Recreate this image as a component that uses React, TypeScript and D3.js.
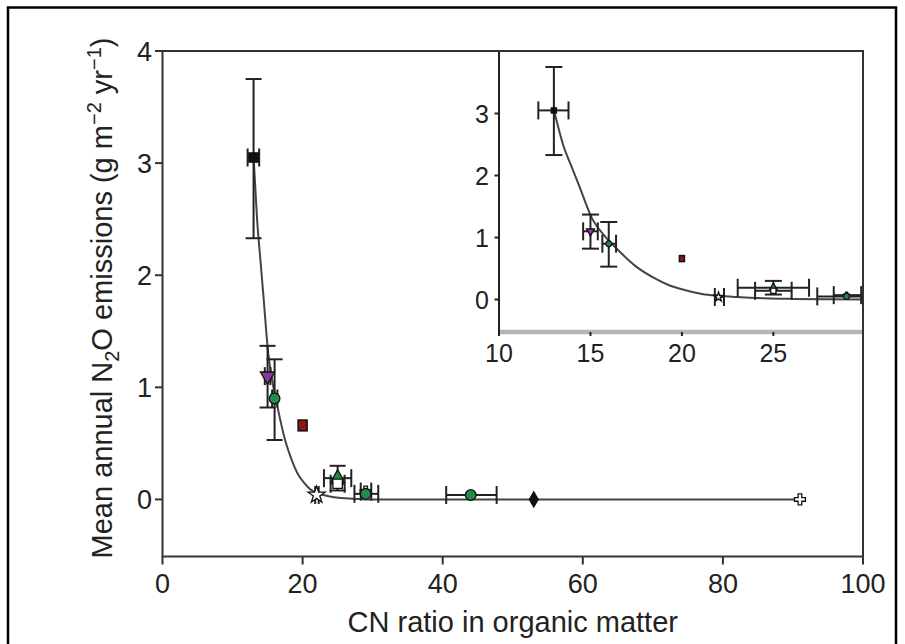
import React from "react";
import * as d3 from "d3";

// ---- data ----
const cnRatio = [13, 15, 16, 20, 22, 25, 25, 29, 29, 44, 53, 91];
const n2oMean = [3.05, 1.1, 0.9, 0.66, 0.04, 0.19, 0.14, 0.07, 0.05, 0.04, 0.0, 0.0];
const yErrLow = [2.33, 0.82, 0.53, null, null, 0.08, null, null, null, null, null, null];
const yErrHigh = [3.75, 1.37, 1.25, null, null, 0.3, null, null, null, null, null, null];
const xErrLow = [12.15, 14.6, 15.65, null, 21.8, 23.05, 24.0, 28.3, 27.4, 40.5, null, null];
const xErrHigh = [13.8, 15.4, 16.4, null, 22.3, 26.95, 26.0, 29.8, 30.8, 47.7, null, null];
const markerKind = ["square", "triangleDown", "circle", "rect", "star", "triangleUp", "square", "cross", "circle", "circle", "diamond", "cross"];
const markerColor = ["#111", "#8a3a9e", "#1e8f46", "#8c1515", "#fff", "#1e8f46", "#fff", "#fff", "#1e8f46", "#1e8f46", "#111", "#fff"];

// fitted curve, points
const curveCN = [13.05, 13.5, 14.0, 14.4, 15.1, 15.7, 16.4, 17.5, 18.4, 19.3, 20.2, 21.1, 22, 23, 24.5, 26, 28, 30, 40, 60, 91];
const curveN2O = [3.0, 2.5, 2.12, 1.82, 1.3, 1.05, 0.83, 0.53, 0.36, 0.23, 0.15, 0.09, 0.06, 0.04, 0.02, 0.01, 0.004, 0, 0, 0, 0];

const mainXTicks = [0, 20, 40, 60, 80, 100];
const mainYTicks = [0, 1, 2, 3, 4];
const insetXTicks = [10, 15, 20, 25];
const insetYTicks = [0, 1, 2, 3];

const FONT = "'Liberation Sans', Arial, Helvetica, sans-serif";
const INK = "#222";

function symbolPath(kind: string, size: number) {
  const map: Record<string, any> = {
    square: d3.symbolSquare,
    circle: d3.symbolCircle,
    star: d3.symbolStar,
    diamond: d3.symbolDiamond,
    cross: d3.symbolCross,
    triangleUp: d3.symbolTriangle,
    triangleDown: d3.symbolTriangle,
  };
  return d3.symbol().type(map[kind] || d3.symbolCircle).size(size)()!;
}

function Marker({ kind, cx, cy, fill, s }: any) {
  if (kind === "rect") {
    return <rect x={cx - 5 * s} y={cy - 6 * s} width={10 * s} height={12 * s} fill={fill} stroke="#111" strokeWidth={1.5} />;
  }
  const rot = kind === "triangleDown" ? 180 : 0;
  const k = kind === "diamond" || kind === "cross" ? 0.75 : 1;
  return (
    <path d={symbolPath(kind, 110 * s * s * k)} transform={`translate(${cx},${cy}) rotate(${rot})`} fill={fill} stroke="#111" strokeWidth={1.3} />
  );
}

function Points({ xs, ys, capW, capH, ms }: any) {
  return (
    <g>
      {cnRatio.map((cn, i) => {
        const cx = xs(cn);
        const cy = ys(n2oMean[i]);
        const els: any[] = [];
        const yl = yErrLow[i], yh = yErrHigh[i];
        if (yl != null && yh != null) {
          els.push(<line key="yv" x1={cx} x2={cx} y1={ys(yl)} y2={ys(yh)} stroke={INK} strokeWidth={2} />);
          els.push(<line key="yc1" x1={cx - capW / 2} x2={cx + capW / 2} y1={ys(yl)} y2={ys(yl)} stroke={INK} strokeWidth={2} />);
          els.push(<line key="yc2" x1={cx - capW / 2} x2={cx + capW / 2} y1={ys(yh)} y2={ys(yh)} stroke={INK} strokeWidth={2} />);
        }
        const xl = xErrLow[i], xh = xErrHigh[i];
        if (xl != null && xh != null) {
          els.push(<line key="xh" x1={xs(xl)} x2={xs(xh)} y1={cy} y2={cy} stroke={INK} strokeWidth={2} />);
          els.push(<line key="xc1" x1={xs(xl)} x2={xs(xl)} y1={cy - capH / 2} y2={cy + capH / 2} stroke={INK} strokeWidth={2} />);
          els.push(<line key="xc2" x1={xs(xh)} x2={xs(xh)} y1={cy - capH / 2} y2={cy + capH / 2} stroke={INK} strokeWidth={2} />);
        }
        return (
          <g key={i}>
            {els}
            <Marker kind={markerKind[i]} cx={cx} cy={cy} fill={markerColor[i]} s={ms} />
          </g>
        );
      })}
    </g>
  );
}

export default function App() {
  // main plot
  const x = d3.scaleLinear().domain([0, 100]).range([162.5, 863]);
  const y = d3.scaleLinear().domain([-0.5, 4]).range([555.5, 51]);
  // inset
  const xi = d3.scaleLinear().domain([10, 29.9]).range([499, 863]);
  const yi = d3.scaleLinear().domain([-0.5, 4]).range([330.5, 51.5]);

  const curveData = curveCN.map((c, i) => [c, curveN2O[i]] as [number, number]);
  const lineMain = d3.line<[number, number]>().x((d) => x(d[0])).y((d) => y(d[1])).curve(d3.curveMonotoneX);
  const lineInset = d3.line<[number, number]>().x((d) => xi(d[0])).y((d) => yi(d[1])).curve(d3.curveMonotoneX);

  const [x0, x1] = x.range();
  const yTop = 51, yBot = 556.5;

  return (
    <svg width={905} height={644} style={{ position: "absolute", left: 0, top: 0, background: "#fff" }} fontFamily={FONT}>
      <rect x={0} y={0} width={905} height={644} fill="#fff" />
      {/* outer frame */}
      <rect x={8} y={7.5} width={888} height={700} fill="none" stroke="#000" strokeWidth={2.5} />

      {/* main data */}
      <path d={lineMain(curveData)!} fill="none" stroke="#444" strokeWidth={2} />
      <Points xs={x} ys={y} capW={16} capH={18} ms={0.9} />

      {/* inset */}
      <defs>
        <clipPath id="insetClip">
          <rect x={499} y={51} width={364} height={280} />
        </clipPath>
      </defs>
      <rect x={499} y={51} width={364} height={281} fill="#fff" />
      <g clipPath="url(#insetClip)">
        <path d={lineInset(curveData)!} fill="none" stroke="#444" strokeWidth={2} />
        <Points xs={xi} ys={yi} capW={17} capH={18} ms={0.5} />
      </g>
      <line x1={499} x2={863} y1={332} y2={332} stroke="#b5b5b5" strokeWidth={4.5} />
      <line x1={499} x2={499} y1={51} y2={335} stroke="#222" strokeWidth={2} />
      {insetYTicks.map((t) => (
        <g key={"iy" + t}>
          <line x1={494.5} x2={499} y1={yi(t)} y2={yi(t)} stroke="#222" strokeWidth={2} />
          <text x={489} y={yi(t)} dy="0.36em" textAnchor="end" fontSize={25} fill={INK}>{t}</text>
        </g>
      ))}
      {insetXTicks.map((t) => (
        <g key={"ix" + t}>
          <line x1={xi(t)} x2={xi(t)} y1={332} y2={336} stroke="#222" strokeWidth={2} />
          <text x={xi(t)} y={362} textAnchor="middle" fontSize={25} fill={INK}>{t}</text>
        </g>
      ))}

      {/* main frame */}
      <rect x={x0} y={yTop} width={x1 - x0} height={yBot - yTop} fill="none" stroke="#333" strokeWidth={2} />
      {mainYTicks.map((t) => (
        <g key={"y" + t}>
          <line x1={155} x2={x0} y1={y(t)} y2={y(t)} stroke="#333" strokeWidth={2} />
          <text x={152} y={y(t)} dy="0.36em" textAnchor="end" fontSize={27} fill={INK}>{t}</text>
        </g>
      ))}
      {mainXTicks.map((t) => (
        <g key={"x" + t}>
          <line x1={x(t)} x2={x(t)} y1={yBot} y2={yBot + 8} stroke="#333" strokeWidth={2} />
          <text x={x(t)} y={593} textAnchor="middle" fontSize={27} fill={INK}>{t}</text>
        </g>
      ))}
      <text x={(x0 + x1) / 2} y={632} textAnchor="middle" fontSize={29} fill={INK}>CN ratio in organic matter</text>
      <text transform="rotate(-90)" x={-298} y={112} textAnchor="middle" fontSize={29} fill={INK}>
        Mean annual N<tspan dy={7} fontSize={20}>2</tspan><tspan dy={-7}>O emissions (g m</tspan>
        <tspan dy={-11} fontSize={20}>−2</tspan><tspan dy={11}> yr</tspan>
        <tspan dy={-11} fontSize={20}>−1</tspan><tspan dy={11}>)</tspan>
      </text>
    </svg>
  );
}
